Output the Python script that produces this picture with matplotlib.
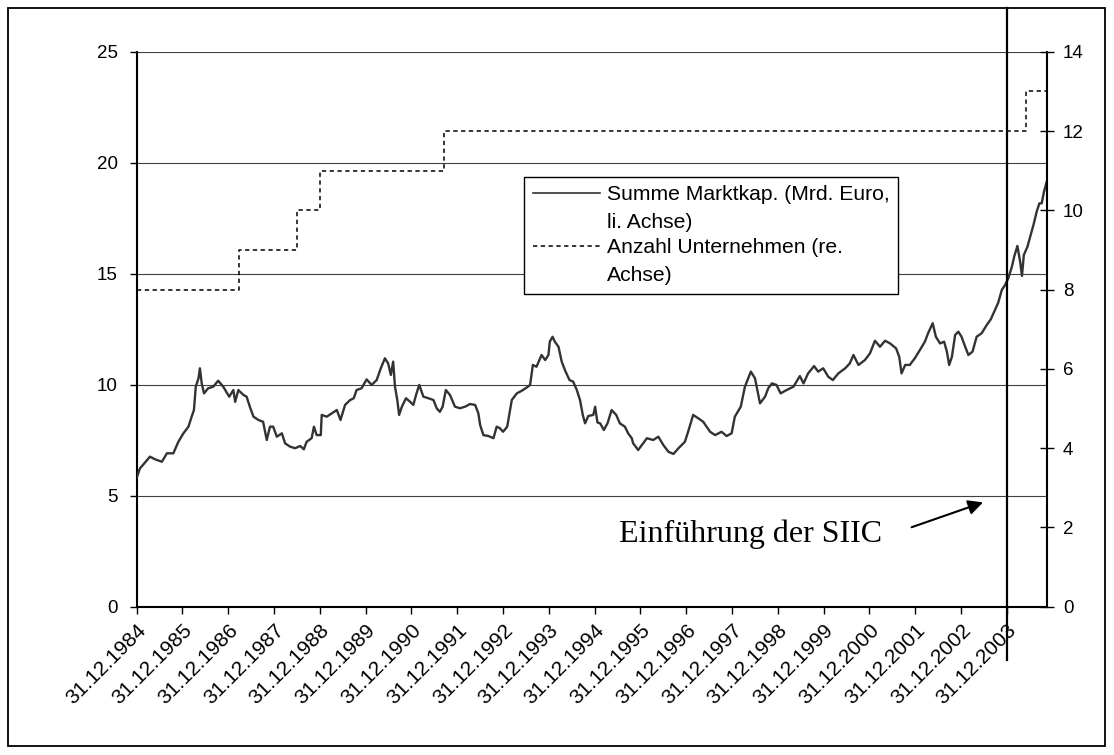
#!/usr/bin/env python3
import matplotlib
matplotlib.use("Agg")
import matplotlib.pyplot as plt
from matplotlib.lines import Line2D
from matplotlib.patches import Rectangle
from matplotlib.legend_handler import HandlerLine2D

# market cap (bn EUR); x in decimal years (1985.0 = 31.12.1984)
years = [
    1985.00, 1985.07, 1985.18, 1985.29, 1985.40, 1985.55, 1985.66, 1985.80, 1985.91,
    1986.02, 1986.13, 1986.20, 1986.25, 1986.29, 1986.35, 1986.38, 1986.42, 1986.47,
    1986.56, 1986.67, 1986.78, 1986.89, 1987.02, 1987.11, 1987.15, 1987.22, 1987.33,
    1987.40, 1987.47, 1987.55, 1987.66, 1987.76, 1987.84, 1987.91, 1987.98, 1988.06,
    1988.17, 1988.24, 1988.35, 1988.46, 1988.57, 1988.65, 1988.71, 1988.82, 1988.87,
    1988.93, 1989.02, 1989.04, 1989.15, 1989.26, 1989.37, 1989.45, 1989.55, 1989.66,
    1989.74, 1989.80, 1989.91, 1990.02, 1990.13, 1990.24, 1990.33, 1990.42, 1990.49,
    1990.55, 1990.60, 1990.64, 1990.69, 1990.73, 1990.79, 1990.88, 1990.97, 1991.04,
    1991.11, 1991.17, 1991.26, 1991.37, 1991.48, 1991.55, 1991.62, 1991.68, 1991.75,
    1991.84, 1991.95, 1992.06, 1992.17, 1992.28, 1992.39, 1992.46, 1992.50, 1992.57,
    1992.68, 1992.79, 1992.86, 1992.93, 1993.00, 1993.09, 1993.14, 1993.19, 1993.30,
    1993.41, 1993.52, 1993.59, 1993.65, 1993.73, 1993.84, 1993.92, 1993.99, 1994.02,
    1994.08, 1994.13, 1994.21, 1994.28, 1994.35, 1994.45, 1994.53, 1994.61, 1994.68,
    1994.74, 1994.79, 1994.86, 1994.97, 1995.01, 1995.06, 1995.12, 1995.20, 1995.28,
    1995.37, 1995.47, 1995.55, 1995.66, 1995.73, 1995.81, 1995.84, 1995.95, 1996.14,
    1996.28, 1996.39, 1996.50, 1996.61, 1996.72, 1996.83, 1996.97, 1997.04, 1997.15,
    1997.26, 1997.37, 1997.52, 1997.63, 1997.77, 1997.88, 1997.99, 1998.06, 1998.19,
    1998.28, 1998.41, 1998.50, 1998.61, 1998.72, 1998.79, 1998.87, 1998.97, 1999.06,
    1999.19, 1999.34, 1999.48, 1999.56, 1999.66, 1999.79, 1999.88, 1999.99, 2000.10,
    2000.20, 2000.32, 2000.47, 2000.57, 2000.65, 2000.76, 2000.90, 2001.01, 2001.12,
    2001.23, 2001.34, 2001.45, 2001.58, 2001.65, 2001.70, 2001.78, 2001.88, 2001.99,
    2002.10, 2002.21, 2002.28, 2002.38, 2002.45, 2002.54, 2002.63, 2002.69, 2002.74,
    2002.80, 2002.87, 2002.94, 2003.01, 2003.09, 2003.16, 2003.25, 2003.34, 2003.45,
    2003.56, 2003.65, 2003.74, 2003.81, 2003.89, 2003.96, 2004.03, 2004.11, 2004.16,
    2004.23, 2004.29, 2004.33, 2004.37, 2004.45, 2004.52, 2004.59, 2004.65, 2004.71,
    2004.76, 2004.81, 2004.87,
]
market_cap = [
    5.80, 6.23, 6.49, 6.76, 6.64, 6.53, 6.91, 6.91, 7.43,
    7.81, 8.11, 8.56, 8.86, 9.91, 10.29, 10.74, 10.06, 9.61,
    9.84, 9.91, 10.18, 9.91, 9.46, 9.76, 9.23, 9.76, 9.54,
    9.46, 9.01, 8.56, 8.41, 8.33, 7.51, 8.11, 8.11, 7.66,
    7.81, 7.36, 7.21, 7.14, 7.24, 7.09, 7.43, 7.59, 8.11,
    7.73, 7.73, 8.64, 8.56, 8.71, 8.86, 8.41, 9.09, 9.31,
    9.39, 9.76, 9.84, 10.24, 9.99, 10.21, 10.74, 11.19, 10.96,
    10.44, 11.04, 9.91, 9.31, 8.64, 9.01, 9.39, 9.23, 9.09,
    9.61, 9.99, 9.46, 9.39, 9.31, 8.94, 8.78, 9.01, 9.76,
    9.54, 9.01, 8.94, 9.01, 9.13, 9.09, 8.71, 8.18, 7.73,
    7.69, 7.59, 8.11, 8.04, 7.88, 8.11, 8.71, 9.31, 9.61,
    9.73, 9.88, 9.99, 10.89, 10.81, 11.34, 11.11, 11.34, 11.94,
    12.16, 11.94, 11.71, 11.04, 10.66, 10.21, 10.14, 9.76, 9.31,
    8.64, 8.26, 8.59, 8.64, 9.01, 8.30, 8.26, 7.96, 8.26,
    8.86, 8.64, 8.26, 8.11, 7.81, 7.59, 7.36, 7.06, 7.59,
    7.51, 7.66, 7.28, 6.98, 6.88, 7.14, 7.43, 7.88, 8.64,
    8.49, 8.33, 7.88, 7.73, 7.88, 7.69, 7.81, 8.56, 9.01,
    9.91, 10.59, 10.29, 9.16, 9.46, 9.84, 10.06, 9.99, 9.61,
    9.76, 9.91, 10.39, 10.06, 10.51, 10.84, 10.59, 10.74, 10.36,
    10.21, 10.51, 10.74, 10.96, 11.34, 10.89, 11.11, 11.41, 11.98,
    11.71, 11.98, 11.86, 11.64, 11.26, 10.51, 10.89, 10.89, 11.19,
    11.56, 11.94, 12.32, 12.77, 12.16, 11.86, 11.94, 11.49, 10.89,
    11.26, 12.24, 12.39, 12.16, 11.71, 11.34, 11.49, 12.16, 12.32,
    12.69, 12.95, 13.36, 13.69, 14.27, 14.49, 14.79, 15.32, 15.77,
    16.25, 15.54, 14.90, 15.84, 16.22, 16.74, 17.27, 17.79, 18.17,
    18.17, 18.69, 19.14,
]

# number of listed companies (right axis), step changes
step_years = [1985.00, 1987.23, 1988.51, 1989.00, 1991.71, 2004.42, 2004.87]
companies = [8, 9, 10, 11, 12, 13, 13]

tick_years = list(range(1985, 2005))
tick_labels = ["31.12.%d" % (y - 1) for y in tick_years]
siic_year = 2004.0

label_cap = "Summe Marktkap. (Mrd. Euro,\nli. Achse)"
label_cnt = "Anzahl Unternehmen (re.\nAchse)"

plt.rcParams["font.family"] = ["Liberation Sans", "DejaVu Sans"]


class TopLine(HandlerLine2D):
    # put the legend line next to the first text line (Excel style)
    def __init__(self, shift, **kw):
        super().__init__(**kw)
        self.shift = shift

    def create_artists(self, legend, orig_handle, xdescent, ydescent,
                       width, height, fontsize, trans):
        arts = super().create_artists(legend, orig_handle, xdescent, ydescent,
                                      width, height, fontsize, trans)
        for a in arts:
            a.set_ydata([y + self.shift for y in a.get_ydata()])
        return arts


fig = plt.figure(figsize=(11.14, 7.55), dpi=100)
ax = fig.add_axes([0.1227, 0.1964, 0.8169, 0.7351])
ax2 = ax.twinx()

ax.plot(years, market_cap, color="#333333", lw=1.7, zorder=3)
ax2.step(step_years, companies, where="post", color="black", lw=1.1,
         linestyle=(0, (2.8, 2.3)))

ax.set_xlim(1985.0, 2004.87)
ax.set_ylim(0, 25)
ax2.set_ylim(0, 14)
ax.set_yticks(range(0, 26, 5))
ax2.set_yticks(range(0, 15, 2))
ax.set_xticks(tick_years)
ax.set_xticklabels(tick_labels, rotation=45, ha="right", va="top",
                   rotation_mode="anchor", fontsize=15)

ax.yaxis.grid(True, color="#404040", lw=0.8)
ax.set_axisbelow(True)

for a in (ax, ax2):
    a.spines["top"].set_visible(False)
ax.spines["right"].set_visible(False)
ax.spines["left"].set_linewidth(1.5)
ax.spines["bottom"].set_linewidth(1.5)
ax2.spines["left"].set_visible(False)
ax2.spines["bottom"].set_visible(False)
ax2.spines["right"].set_linewidth(1.5)

ax.tick_params(axis="y", direction="out", length=5, width=1, pad=8.5, labelsize=13.5)
ax.tick_params(axis="x", direction="out", length=5, width=1, pad=5)
ax2.tick_params(axis="y", direction="inout", length=9.5, width=1, pad=7, labelsize=13.5)

# introduction of the SIIC
ax.plot([siic_year, siic_year], [-0.096, 1.078], transform=ax.get_xaxis_transform(),
        color="black", lw=1.6, clip_on=False, zorder=5)
ax.annotate("", xy=(2003.48, 4.70), xytext=(2001.92, 3.58),
            arrowprops=dict(arrowstyle="-|>", mutation_scale=22, lw=1.5,
                            color="black", shrinkA=0, shrinkB=0))
ax.text(1995.53, 2.93, "Einführung der SIIC", family="Liberation Serif",
        fontsize=23, va="baseline", ha="left")

h1 = Line2D([], [], color="#333333", lw=1.2)
h2 = Line2D([], [], color="black", lw=1.1, linestyle=(0, (2.8, 2.3)))
leg = ax2.legend([h1, h2], [label_cap, label_cnt], loc="upper left",
                 bbox_to_anchor=(0.426, 0.775), borderaxespad=0,
                 fontsize=15.2, frameon=True, fancybox=False, framealpha=1,
                 edgecolor="black", handlelength=3.2, handletextpad=0.3,
                 borderpad=0.4, labelspacing=0.3,
                 handler_map={h1: TopLine(11.5), h2: TopLine(11.5)})
leg.get_frame().set_linewidth(1.0)
for t in leg.get_texts():
    t.set_linespacing(1.6)

fig.patches.append(Rectangle((0.0072, 0.0119), 0.9847, 0.9775, transform=fig.transFigure,
                             fill=False, lw=1.3, ec="black"))

fig.savefig("out.png", dpi=100)
